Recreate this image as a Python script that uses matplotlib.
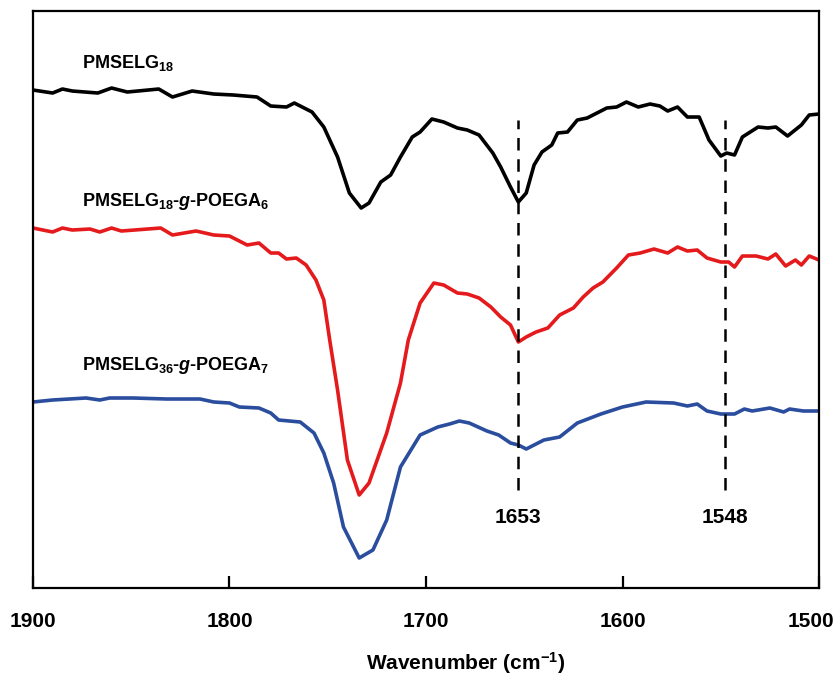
#!/usr/bin/env python3
"""FTIR spectra of PMSELG18 and the two POEGA graft copolymers."""

import matplotlib

matplotlib.use("Agg")
import matplotlib.pyplot as plt  # noqa: E402
from matplotlib.transforms import ScaledTranslation  # noqa: E402

# wavenumber (cm-1) and transmittance (a.u.)
wn_pmselg18 = [
    1900, 1890, 1885, 1880, 1867, 1860, 1852, 1836, 1829, 1819,
    1808, 1798, 1786, 1779, 1771, 1767, 1758, 1752, 1745, 1739,
    1733, 1729, 1723, 1718, 1713, 1707, 1703, 1697, 1691, 1684,
    1679, 1673, 1666, 1662, 1657, 1653, 1649, 1645, 1641, 1636,
    1633, 1628, 1623, 1618, 1608, 1603, 1598, 1592, 1586, 1581,
    1577, 1572, 1567, 1561, 1556, 1550, 1547, 1543, 1539, 1531,
    1526, 1522, 1516, 1509, 1505, 1500,
]
t_pmselg18 = [
    498, 495, 499, 497, 495, 500, 496, 499, 491, 497,
    494, 493, 491, 482, 481, 485, 476, 461, 431, 395,
    380, 385, 406, 413, 431, 451, 456, 469, 466, 460,
    458, 453, 435, 421, 401, 386, 395, 423, 436, 443,
    455, 456, 468, 470, 480, 481, 486, 481, 484, 482,
    477, 481, 471, 471, 448, 432, 435, 433, 451, 461,
    460, 461, 452, 463, 473, 474,
]

wn_g18 = [
    1900, 1890, 1885, 1880, 1871, 1866, 1860, 1855, 1835, 1829,
    1817, 1808, 1800, 1791, 1785, 1779, 1775, 1771, 1766, 1761,
    1756, 1752, 1749, 1745, 1740, 1734, 1729, 1720, 1713, 1709,
    1703, 1696, 1691, 1684, 1679, 1673, 1667, 1662, 1657, 1653,
    1649,
    1644, 1638, 1632, 1625, 1620, 1615, 1610, 1603, 1597, 1591,
    1584, 1577, 1572, 1567, 1562, 1557, 1550, 1546, 1543, 1539,
    1532, 1526, 1522, 1517, 1512, 1509, 1505, 1500,
]
t_g18 = [
    360, 356, 360, 358, 359, 356, 360, 357, 360, 353,
    357, 353, 352, 343, 345, 335, 335, 329, 330, 323,
    308, 288, 248, 198, 128, 93, 105, 155, 205, 248,
    285, 305, 303, 295, 294, 290, 281, 271, 263, 246,
    251,
    256, 260, 273, 280, 291, 300, 306, 320, 333, 335,
    339, 335, 341, 337, 338, 330, 326, 326, 321, 332,
    332, 329, 334, 322, 328, 323, 332, 328,
]

wn_g36 = [
    1900, 1890, 1873, 1866, 1861, 1849, 1832, 1815, 1808, 1800,
    1795, 1785, 1779, 1775, 1764, 1757, 1752, 1747, 1742, 1734,
    1727, 1720, 1713, 1703, 1694, 1688, 1683, 1678, 1669, 1663,
    1657, 1653, 1649, 1640, 1632, 1623, 1611, 1600, 1588, 1574,
    1567, 1562, 1557, 1550, 1543, 1538, 1534, 1525, 1518, 1515,
    1508, 1500,
]
t_g36 = [
    186, 188, 190, 188, 190, 190, 189, 189, 186, 185,
    181, 180, 175, 168, 166, 155, 135, 105, 61, 30,
    38, 68, 121, 153, 161, 164, 167, 165, 157, 153,
    145, 143, 139, 148, 151, 165, 174, 181, 186, 185,
    182, 184, 177, 174, 174, 179, 177, 180, 176, 179,
    177, 177,
]

peaks = [1653, 1548]

plt.rcParams["font.family"] = ["Liberation Sans", "DejaVu Sans"]
plt.rcParams["font.weight"] = "bold"
plt.rcParams["mathtext.fontset"] = "custom"
plt.rcParams["mathtext.rm"] = "Liberation Sans:bold"
plt.rcParams["mathtext.it"] = "Liberation Sans:bold:italic"
plt.rcParams["mathtext.bf"] = "Liberation Sans:bold"

fig = plt.figure(figsize=(8.39, 6.8), dpi=100)
ax = fig.add_axes([0.0393, 0.1353, 0.9369, 0.8485])

ax.plot(wn_pmselg18, t_pmselg18, color="black", lw=2.6, solid_joinstyle="round")
ax.plot(wn_g18, t_g18, color="#e41a1c", lw=2.6, solid_joinstyle="round")
ax.plot(wn_g36, t_g36, color="#2a4d9e", lw=2.6, solid_joinstyle="round")

for p in peaks:
    ax.plot([p, p], [98, 468], color="black", lw=1.8, ls=(0, (5, 3.5)))
    ax.text(p, 65, str(p), ha="center", va="baseline", fontsize=15, fontweight="bold")

ax.text(1875, 520, r"PMSELG$_{18}$", fontsize=13, fontweight="bold", va="baseline")
ax.text(1875, 382, r"PMSELG$_{18}$-$g$-POEGA$_{6}$", fontsize=13,
        fontweight="bold", va="baseline")
ax.text(1875, 218, r"PMSELG$_{36}$-$g$-POEGA$_{7}$", fontsize=13,
        fontweight="bold", va="baseline")

ax.set_xlim(1900, 1500)
ax.set_ylim(0, 577)
ax.set_xticks([1900, 1800, 1700, 1600, 1500])
ax.set_yticks([])
ax.tick_params(axis="x", direction="in", length=9, width=1.6, pad=17, labelsize=15)
for spine in ax.spines.values():
    spine.set_linewidth(1.6)

# last tick label sits against the figure edge; nudge it left a little
last = ax.get_xticklabels()[-1]
last.set_transform(last.get_transform() + ScaledTranslation(-6 / 72, 0, fig.dpi_scale_trans))

ax.set_xlabel(r"Wavenumber (cm$^{-1}$)", fontsize=15, fontweight="bold")
ax.xaxis.set_label_coords(0.55, -0.108)

fig.savefig("out.png", dpi=100)
